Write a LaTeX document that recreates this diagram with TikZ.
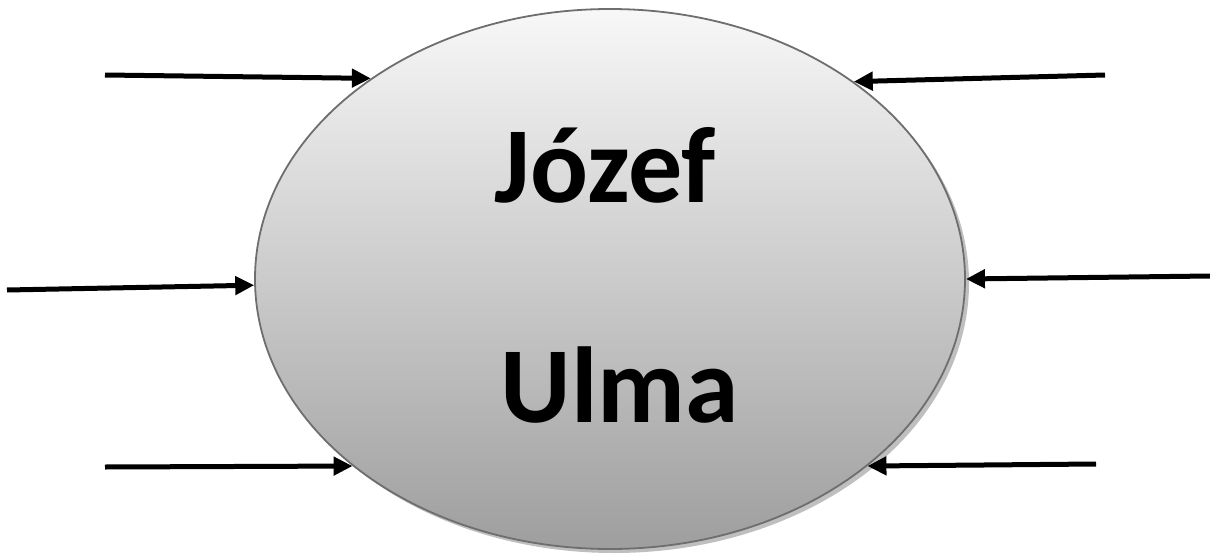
\documentclass[tikz,border=0pt]{standalone}
\usepackage{fontspec}
\setmainfont{Carlito}
\usetikzlibrary{shapes.geometric,shadows,arrows.meta}

\begin{document}
\begin{tikzpicture}[x=1pt,y=-1pt,  % 像素坐标, y 向下
  jiantou/.style={line width=5pt,-{Triangle[length=19pt,width=18pt]}},
  mingzi/.style={font=\fontsize{108}{130}\selectfont\bfseries,anchor=base,inner sep=0pt}]

  % 固定整张图的大小
  \useasboundingbox (0,0) rectangle (1210,554);

  % 中间的大椭圆,上浅下深的渐变,右下带阴影
  \node[ellipse,minimum width=710pt,minimum height=540pt,
        draw=black!57,line width=1.8pt,
        top color=black!3,bottom color=black!38,
        drop shadow={shadow xshift=4pt,shadow yshift=-4pt,fill=black!25,opacity=1}]
        (ren) at (610,279) {};

  % 两行名字
  \node[mingzi] (ming) at (605,202) {Józef};
  \node[mingzi] (xing) at (620,422) {Ulma};

  % 箭头的起点
  \coordinate (zuoshang) at (105,75);
  \coordinate (youshang) at (1105,75);
  \coordinate (zuozhong) at (7,290);
  \coordinate (youzhong) at (1210,276);
  \coordinate (zuoxia) at (105,467);
  \coordinate (youxia) at (1096,464);

  % 六个箭头都指向椭圆的边
  \draw[jiantou] (zuoshang) -- (ren.140.5);
  \draw[jiantou] (youshang) -- (ren.39.5);
  \draw[jiantou] (zuozhong) -- (ren.181.8);
  \draw[jiantou] (youzhong) -- (ren.0.5);
  \draw[jiantou] (zuoxia) -- (ren.216.2);
  \draw[jiantou] (youxia) -- (ren.324.3);

\end{tikzpicture}
\end{document}
